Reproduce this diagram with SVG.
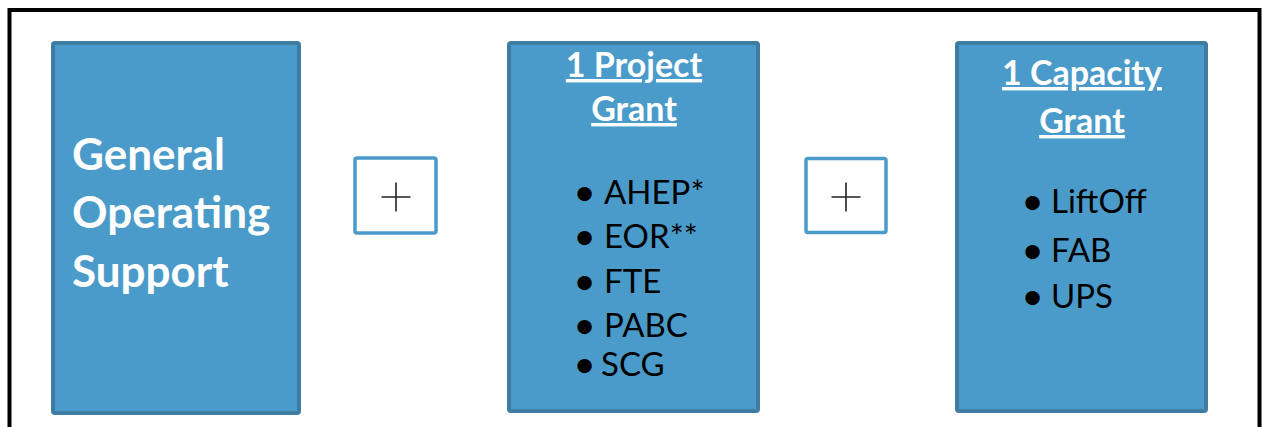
<svg xmlns="http://www.w3.org/2000/svg" width="1262" height="427" viewBox="0 0 1262 427">
<style>
.frame{fill:none;stroke:#000;stroke-width:4}
.box{fill:#4a9bca;stroke:#3f7ca3;stroke-width:4}
.plusbox{fill:#fff;stroke:#4a9bca;stroke-width:3.5}
.plus{stroke:#222;stroke-width:1.6;fill:none}
.big{font-family:Lato,"Open Sans",sans-serif;font-weight:bold;font-size:44px;fill:#fff}
.title{font-family:Lato,"Open Sans",sans-serif;font-weight:bold;font-size:34px;fill:#fff;text-decoration:underline;text-anchor:middle}
.item{font-family:Lato,"Open Sans",sans-serif;font-size:33px;fill:#000}
.dot{font-weight:bold}
</style>
<rect class="frame" x="9.5" y="10" width="1250" height="440"/>
<g id="node-general">
<rect class="box" x="53" y="43" width="246" height="370" rx="2"/>
<text class="big" x="72" y="170">General</text>
<text class="big" x="72" y="228">Operating</text>
<text class="big" x="72" y="287">Support</text>
</g>
<g id="plus-1">
<rect class="plusbox" x="355" y="158" width="81" height="75" rx="2"/>
<path class="plus" d="M381.5 197H410.5M396 182.5V211.5"/>
</g>
<g id="node-project">
<rect class="box" x="509" y="43" width="249" height="368" rx="2"/>
<text class="title" x="634" y="77">1 Project</text>
<text class="title" x="634" y="121">Grant</text>
<text class="item"><tspan class="dot" x="575" y="204">•</tspan><tspan x="604" y="204">AHEP*</tspan></text>
<text class="item"><tspan class="dot" x="575" y="248">•</tspan><tspan x="604" y="248">EOR**</tspan></text>
<text class="item"><tspan class="dot" x="575" y="293">•</tspan><tspan x="604" y="293">FTE</tspan></text>
<text class="item"><tspan class="dot" x="575" y="337">•</tspan><tspan x="604" y="337">PABC</tspan></text>
<text class="item"><tspan class="dot" x="575" y="376">•</tspan><tspan x="601" y="376">SCG</tspan></text>
</g>
<g id="plus-2">
<rect class="plusbox" x="806" y="158.5" width="80" height="74" rx="2"/>
<path class="plus" d="M831.5 197H860.5M846 182.5V211.5"/>
</g>
<g id="node-capacity">
<rect class="box" x="957" y="43" width="249" height="368" rx="2"/>
<text class="title" x="1082" y="85">1 Capacity</text>
<text class="title" x="1082" y="133">Grant</text>
<text class="item"><tspan class="dot" x="1023" y="213">•</tspan><tspan x="1051" y="213">LiftOff</tspan></text>
<text class="item"><tspan class="dot" x="1023" y="262">•</tspan><tspan x="1051" y="262">FAB</tspan></text>
<text class="item"><tspan class="dot" x="1023" y="308">•</tspan><tspan x="1051" y="308">UPS</tspan></text>
</g>
</svg>
